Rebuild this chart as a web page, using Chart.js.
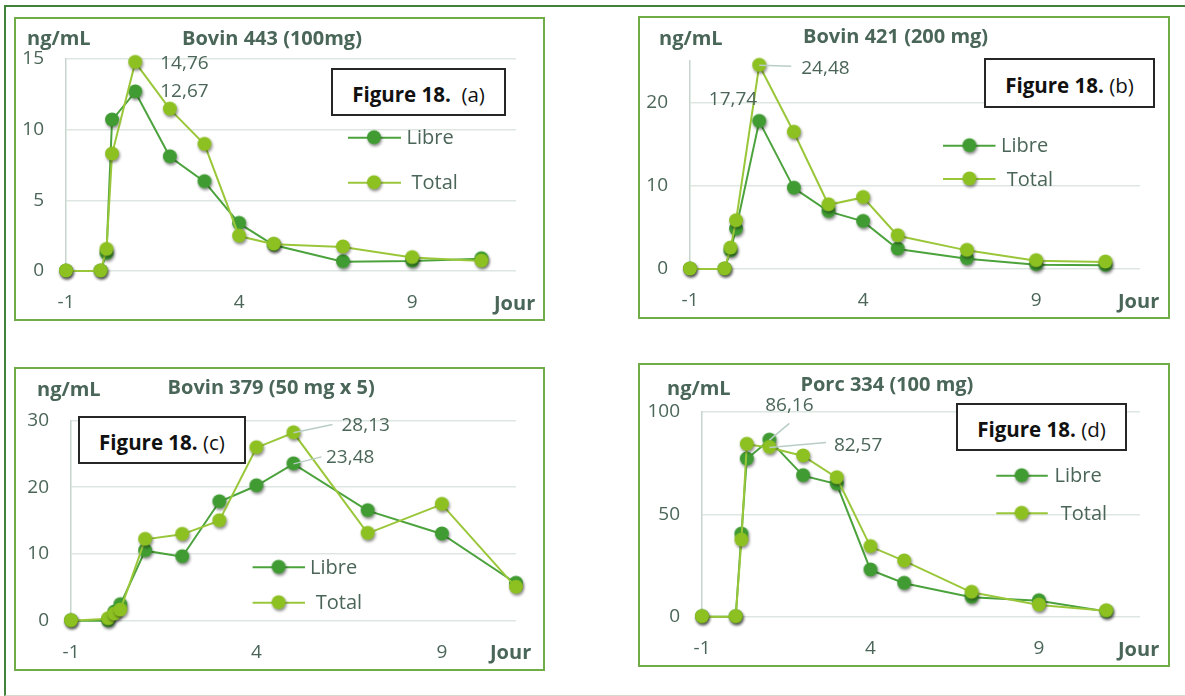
<!DOCTYPE html>
<html>
<head>
<meta charset="utf-8">
<script src="https://cdn.jsdelivr.net/npm/chart.js@4.4.1/dist/chart.umd.min.js"></script>
<style>
  html, body { margin: 0; padding: 0; background: #ffffff; }
  body { width: 1185px; height: 696px; position: relative; overflow: hidden; font-family: "Open Sans", "DejaVu Sans", sans-serif; }
  .frame { position: absolute; left: 4px; top: 5px; width: 1200px; height: 688px;
           border-left: 2px solid #41823a; border-top: 2px solid #41823a; border-bottom: 1px solid #d6d9d0; }
  .panel { position: absolute; }
  .panel canvas { position: absolute; left: 0; top: 0; }
  .panel .edge { position: absolute; left: 0; top: 0; right: 0; bottom: 0; border: 2px solid #70ad47;
                 box-sizing: border-box; pointer-events: none; }
  .txt { position: absolute; white-space: nowrap; line-height: 24px; height: 24px; }
  .unit, .title, .jour { font-weight: 700; color: #4a6658; font-size: 20px; }
  .fig { position: absolute; border: 2px solid #262626; background: #fff; box-sizing: border-box;
         display: flex; align-items: center; justify-content: center; font-size: 20.5px; color: #111;
         padding-top: 4px; white-space: pre; }
  .fig b { font-weight: 700; }
</style>
</head>
<body>
<div class="frame"></div>

<script>
// Sampling times (days); 0.17 and 0.33 are the 4 h and 8 h samples
const days = [-1, 0, 0.17, 0.33, 1, 2, 3, 4, 5, 7, 9, 11];
const xTicks = [-1, 4, 9];
const seriesNames = ['Libre', 'Total'];

// (a) Bovin 443 (100mg)
const libreA = [0, 0, 1.25, 10.68, 12.67, 8.08, 6.32, 3.37, 1.84, 0.66, 0.70, 0.87];
const totalA = [0, 0, 1.53, 8.27, 14.76, 11.45, 8.96, 2.47, 1.90, 1.70, 0.95, 0.70];
const yTicksA = [0, 5, 10, 15];

// (b) Bovin 421 (200 mg)
const libreB = [0, 0, 2.20, 4.80, 17.74, 9.72, 6.92, 5.72, 2.40, 1.24, 0.52, 0.44];
const totalB = [0, 0, 2.52, 5.80, 24.48, 16.44, 7.72, 8.60, 4.00, 2.24, 1.00, 0.84];
const yTicksB = [0, 10, 20];

// (c) Bovin 379 (50 mg x 5)
const libreC = [0, 0, 1.30, 2.40, 10.48, 9.58, 17.80, 20.20, 23.48, 16.47, 12.98, 5.60];
const totalC = [0, 0.30, 1.00, 1.60, 12.18, 12.93, 14.97, 25.90, 28.13, 13.08, 17.42, 5.00];
const yTicksC = [0, 10, 20, 30];

// (d) Porc 334 (100 mg)
const libreD = [0, 0, 40.3, 76.9, 86.16, 68.8, 64.7, 22.8, 16.3, 9.5, 7.8, 2.5];
const totalD = [0, 0, 37.4, 84.1, 82.57, 78.4, 67.8, 34.2, 27.2, 11.9, 5.7, 2.9];
const yTicksD = [0, 50, 100];

const titles = ['Bovin 443 (100mg)', 'Bovin 421 (200 mg)', 'Bovin 379 (50 mg x 5)', 'Porc 334 (100 mg)'];
const figTags = ['(a)', '(b)', '(c)', '(d)'];
const unitLabel = 'ng/mL';
const xName = 'Jour';

// Styling
const TEXT = '#4b6659';
const LIBRE_LINE = '#4ca33d', LIBRE_FILL = '#3f9b32';
const TOTAL_LINE = '#9ac73a', TOTAL_FILL = '#8dc021';
const FONT = '"Open Sans", "DejaVu Sans", sans-serif';

function makeMarker(fill) {
  const c = document.createElement('canvas');
  c.width = 24; c.height = 24;
  const g = c.getContext('2d');
  g.shadowColor = 'rgba(0,0,0,0.45)';
  g.shadowBlur = 3;
  g.shadowOffsetX = 1;
  g.shadowOffsetY = 2;
  g.beginPath();
  g.arc(12, 11.5, 7, 0, Math.PI * 2);
  g.fillStyle = fill;
  g.fill();
  return c;
}

// Layout of each panel (page px) and of its plot area inside the panel
const panels = [
  { libre: libreA, total: totalA, yTicks: yTicksA, yMax: 15, xMax: 12,
    box: { l: 14, t: 17, w: 531, h: 304 }, area: { left: 52, right: 29, top: 42, xh: 50 },
    unit: { x: 27, y: 38 }, title: { x: 182, y: 38 }, jour: { x: 494, y: 302.5 },
    fig: { l: 331, t: 68, w: 175, h: 48, gap: '  ' },
    key: { x1: 334, x2: 387, mx: 360, ys: [120.7, 165.7], tx: [392.5, 397.5] },
    labels: [ { ds: 1, i: 4, dx: 25, dy: 1.5, align: 'left' },
              { ds: 0, i: 4, dx: 25, dy: 0, align: 'left' } ] },
  { libre: libreB, total: totalB, yTicks: yTicksB, yMax: 25, xMax: 12,
    box: { l: 638, t: 16, w: 532, h: 303 }, area: { left: 52, right: 30, top: 45, xh: 50 },
    unit: { x: 659, y: 37.7 }, title: { x: 803, y: 36 }, jour: { x: 1118, y: 301 },
    fig: { l: 984, t: 58, w: 171, h: 50, gap: ' ' },
    key: { x1: 305, x2: 357.5, mx: 331.4, ys: [129.7, 163], tx: [363, 368.7] },
    labels: [ { ds: 1, i: 4, dx: 42, dy: 3, align: 'left', leader: [32, 1] },
              { ds: 0, i: 4, dx: -2, dy: -21.5, align: 'right' } ] },
  { libre: libreC, total: totalC, yTicks: yTicksC, yMax: 30, xMax: 11,
    box: { l: 14, t: 367, w: 531, h: 304 }, area: { left: 57, right: 29, top: 53.3, xh: 50.3 },
    unit: { x: 37, y: 389.3 }, title: { x: 167.6, y: 386.7 }, jour: { x: 490, y: 651.7 },
    fig: { l: 78, t: 416, w: 168, h: 48, gap: ' ' },
    key: { x1: 238.6, x2: 291, mx: 264.6, ys: [200.3, 235.7], tx: [296, 301.7] },
    labels: [ { ds: 1, i: 8, dx: 48, dy: -7.5, align: 'left', leader: [39, -8.3] },
              { ds: 0, i: 8, dx: 32.5, dy: -6.5, align: 'left', leader: [28, -7] } ] },
  { libre: libreD, total: totalD, yTicks: yTicksD, yMax: 100, xMax: 12,
    box: { l: 638, t: 363, w: 532, h: 304 }, area: { left: 64, right: 30, top: 48.7, xh: 50.3 },
    unit: { x: 667, y: 388.3 }, title: { x: 800.4, y: 384 }, jour: { x: 1118, y: 649 },
    fig: { l: 956, t: 403, w: 171, h: 48, gap: ' ' },
    key: { x1: 358.3, x2: 409.8, mx: 383.6, ys: [112.7, 150.3], tx: [416.5, 422.8] },
    labels: [ { ds: 0, i: 4, dx: 20, dy: -34.2, align: 'center', leader: [20, -16.7] },
              { ds: 1, i: 4, dx: 64.5, dy: -1.7, align: 'left', leader: [56.7, -5] } ] }
];

// Series key drawn inside the plot (line + marker + name)
const seriesKey = {
  id: 'seriesKey',
  afterDraw(chart, args, opts) {
    const ctx = chart.ctx;
    const k = opts.key;
    if (!k) return;
    chart.data.datasets.forEach((ds, n) => {
      const y = k.ys[n];
      ctx.save();
      ctx.strokeStyle = ds.borderColor;
      ctx.lineWidth = 2;
      ctx.beginPath();
      ctx.moveTo(k.x1, y);
      ctx.lineTo(k.x2, y);
      ctx.stroke();
      const m = ds.pointStyle;
      ctx.drawImage(m, k.mx - m.width / 2, y - m.height / 2);
      ctx.fillStyle = TEXT;
      ctx.font = '20px ' + FONT;
      ctx.textAlign = 'left';
      ctx.textBaseline = 'middle';
      ctx.fillText(ds.label, k.tx[n], y + 1);
      ctx.restore();
    });
  }
};

// Peak value labels, with optional leader lines
const peakLabels = {
  id: 'peakLabels',
  afterDatasetsDraw(chart, args, opts) {
    const ctx = chart.ctx;
    (opts.items || []).forEach(it => {
      const el = chart.getDatasetMeta(it.ds).data[it.i];
      const v = chart.data.datasets[it.ds].data[it.i].y;
      const txt = v.toFixed(2).replace('.', ',');
      ctx.save();
      if (it.leader) {
        ctx.strokeStyle = '#b9cdc6';
        ctx.lineWidth = 1.5;
        ctx.beginPath();
        ctx.moveTo(el.x, el.y);
        ctx.lineTo(el.x + it.leader[0], el.y + it.leader[1]);
        ctx.stroke();
      }
      ctx.fillStyle = TEXT;
      ctx.font = '19px ' + FONT;
      ctx.textAlign = it.align;
      ctx.textBaseline = 'middle';
      ctx.fillText(txt, el.x + it.dx, el.y + it.dy);
      ctx.restore();
    });
  }
};

function addText(cls, text, x, y) {
  const d = document.createElement('div');
  d.className = 'txt ' + cls;
  d.textContent = text;
  d.style.left = x + 'px';
  d.style.top = (y - 12) + 'px';
  document.body.appendChild(d);
}

function buildPanel(p, n) {
  const wrap = document.createElement('div');
  wrap.className = 'panel';
  Object.assign(wrap.style, { left: p.box.l + 'px', top: p.box.t + 'px', width: p.box.w + 'px', height: p.box.h + 'px' });
  const cv = document.createElement('canvas');
  cv.width = p.box.w; cv.height = p.box.h;
  cv.style.width = p.box.w + 'px'; cv.style.height = p.box.h + 'px';
  wrap.appendChild(cv);
  const edge = document.createElement('div');
  edge.className = 'edge';
  wrap.appendChild(edge);
  document.body.appendChild(wrap);

  addText('unit', unitLabel, p.unit.x, p.unit.y);
  addText('title', titles[n], p.title.x, p.title.y);
  addText('jour', xName, p.jour.x, p.jour.y);

  const fig = document.createElement('div');
  fig.className = 'fig';
  Object.assign(fig.style, { left: p.fig.l + 'px', top: p.fig.t + 'px', width: p.fig.w + 'px', height: p.fig.h + 'px' });
  const b = document.createElement('b');
  b.textContent = 'Figure 18.';
  fig.appendChild(b);
  fig.appendChild(document.createTextNode(p.fig.gap + figTags[n]));
  document.body.appendChild(fig);

  const toPoints = vals => days.map((d, j) => ({ x: d, y: vals[j] }));
  const yTicks = p.yTicks;

  new Chart(cv.getContext('2d'), {
    type: 'line',
    data: {
      datasets: [
        { label: seriesNames[0], data: toPoints(p.libre), borderColor: LIBRE_LINE, borderWidth: 2,
          pointStyle: makeMarker(LIBRE_FILL), pointRadius: 7, tension: 0, clip: false, order: 1 },
        { label: seriesNames[1], data: toPoints(p.total), borderColor: TOTAL_LINE, borderWidth: 2,
          pointStyle: makeMarker(TOTAL_FILL), pointRadius: 7, tension: 0, clip: false, order: 0 }
      ]
    },
    options: {
      responsive: false,
      animation: false,
      devicePixelRatio: 1,
      events: [],
      layout: { padding: { left: 0, right: p.area.right, top: p.area.top, bottom: 0 } },
      scales: {
        x: {
          type: 'linear', min: -1, max: p.xMax,
          afterBuildTicks: s => { s.ticks = xTicks.map(v => ({ value: v })); },
          afterFit: s => { s.height = p.area.xh; },
          grid: { display: false, drawTicks: false },
          border: { display: false },
          ticks: { padding: 20, color: TEXT, font: { family: FONT, size: 19 }, maxRotation: 0 }
        },
        y: {
          min: 0, max: p.yMax,
          afterBuildTicks: s => { s.ticks = yTicks.map(v => ({ value: v })); },
          afterFit: s => { s.width = p.area.left; },
          grid: { color: '#dde6e1', lineWidth: 1.4, drawTicks: false },
          border: { display: true, color: '#c6d6ce', width: 1.5 },
          ticks: { padding: 22, color: TEXT, font: { family: FONT, size: 19 } }
        }
      },
      plugins: {
        legend: { display: false },
        tooltip: { enabled: false },
        seriesKey: { key: p.key },
        peakLabels: { items: p.labels }
      }
    },
    plugins: [seriesKey, peakLabels]
  });
}

function start() { panels.forEach(buildPanel); }
if (document.fonts && document.fonts.load) {
  Promise.all([document.fonts.load('19px "Open Sans"'), document.fonts.load('bold 19px "Open Sans"')])
    .then(start, start);
} else {
  start();
}
</script>
</body>
</html>
